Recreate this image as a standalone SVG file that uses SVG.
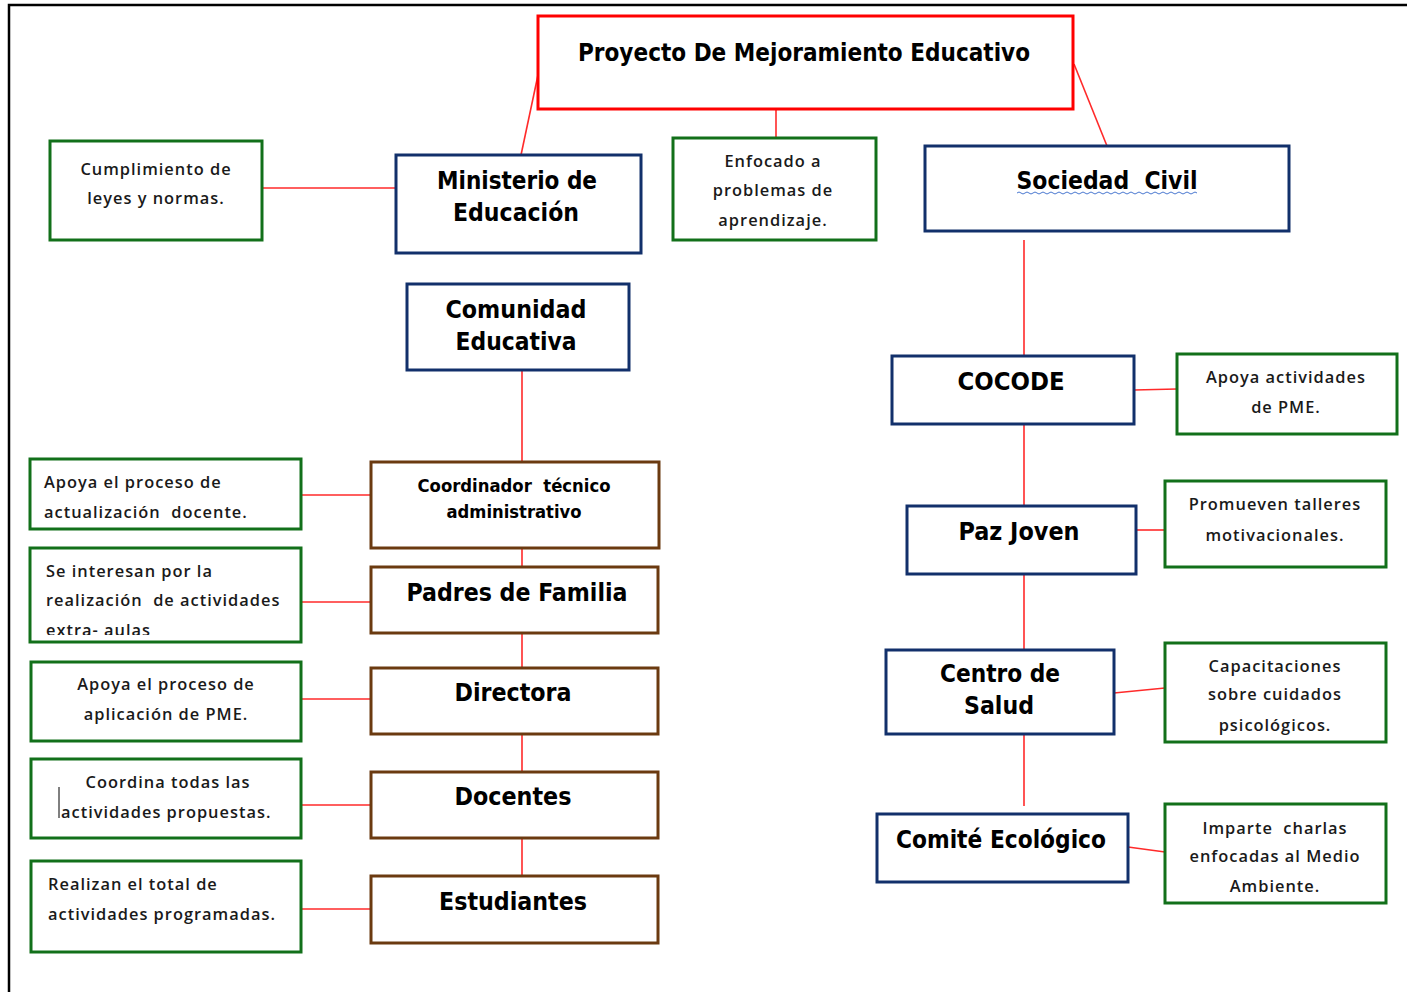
<svg xmlns="http://www.w3.org/2000/svg" width="1407" height="992" viewBox="0 0 1407 992">
<style>
.frame{fill:none;stroke:#000;stroke-width:2.5}
.red{fill:#fff;stroke:#ff0000;stroke-width:3}
.navy{fill:#fff;stroke:#12306b;stroke-width:3}
.brown{fill:#fff;stroke:#6b3a10;stroke-width:3}
.green{fill:#fff;stroke:#12701a;stroke-width:3}
.con line{stroke:#ff2a2a;stroke-width:1.6}
.h{font-family:"DejaVu Sans Condensed","Liberation Sans",sans-serif;font-weight:bold;font-size:24px;fill:#000;text-anchor:middle}
.hs{font-family:"DejaVu Sans Condensed","Liberation Sans",sans-serif;font-weight:bold;font-size:17px;fill:#000;text-anchor:middle}
.t{font-family:"Open Sans","Liberation Sans",sans-serif;font-weight:600;font-size:16.4px;letter-spacing:1px;fill:#1a1a1a;text-anchor:middle}
.tl{font-family:"Open Sans","Liberation Sans",sans-serif;font-weight:600;font-size:16.4px;letter-spacing:1px;fill:#1a1a1a}
</style>
<rect x="0" y="0" width="1407" height="992" fill="#fff"/>
<path class="frame" d="M9,992 V5 H1407"/>
<g class="con" id="connectors">
<line x1="538" y1="75" x2="521" y2="155"/>
<line x1="776" y1="110" x2="776" y2="138"/>
<line x1="1074" y1="64" x2="1107" y2="146"/>
<line x1="262" y1="188" x2="396" y2="188"/>
<line x1="1024" y1="240" x2="1024" y2="356"/>
<line x1="522" y1="370" x2="522" y2="462"/>
<line x1="522" y1="548" x2="522" y2="567"/>
<line x1="522" y1="633" x2="522" y2="668"/>
<line x1="522" y1="734" x2="522" y2="772"/>
<line x1="522" y1="838" x2="522" y2="876"/>
<line x1="301" y1="495" x2="371" y2="495"/>
<line x1="301" y1="602" x2="371" y2="602"/>
<line x1="301" y1="699" x2="371" y2="699"/>
<line x1="301" y1="805" x2="371" y2="805"/>
<line x1="301" y1="909" x2="371" y2="909"/>
<line x1="1134" y1="390" x2="1177" y2="389"/>
<line x1="1024" y1="424" x2="1024" y2="506"/>
<line x1="1136" y1="530" x2="1165" y2="530"/>
<line x1="1024" y1="574" x2="1024" y2="650"/>
<line x1="1114" y1="693" x2="1165" y2="688"/>
<line x1="1024" y1="734" x2="1024" y2="806"/>
<line x1="1128" y1="847" x2="1165" y2="852"/>
</g>
<g id="pme"><rect class="red" x="538" y="16" width="535" height="93"/><text class="h" x="804" y="61" textLength="452" lengthAdjust="spacingAndGlyphs">Proyecto De Mejoramiento Educativo</text></g>
<g id="ministerio"><rect class="navy" x="396" y="155" width="245" height="98"/><text class="h" x="517" y="189" textLength="160" lengthAdjust="spacingAndGlyphs">Ministerio de</text><text class="h" x="516" y="221" textLength="126" lengthAdjust="spacingAndGlyphs">Educación</text></g>
<g id="cumplimiento"><rect class="green" x="50" y="141" width="212" height="99"/><text class="t" x="156" y="175">Cumplimiento de</text><text class="t" x="156" y="204">leyes y normas.</text></g>
<g id="enfocado"><rect class="green" x="673" y="138" width="203" height="102"/><text class="t" x="773" y="167">Enfocado a</text><text class="t" x="773" y="196">problemas de</text><text class="t" x="773" y="226">aprendizaje.</text></g>
<g id="sociedad"><rect class="navy" x="925" y="146" width="364" height="85"/><text class="h" x="1107" y="189" textLength="181" lengthAdjust="spacingAndGlyphs" xml:space="preserve">Sociedad  Civil</text><path d="M1017,193 q2,-2 4,0 t4,0 t4,0 t4,0 t4,0 t4,0 t4,0 t4,0 t4,0 t4,0 t4,0 t4,0 t4,0 t4,0 t4,0 t4,0 t4,0 t4,0 t4,0 t4,0 t4,0 t4,0 t4,0 t4,0 t4,0 t4,0 t4,0 t4,0 t4,0 t4,0 t4,0 t4,0 t4,0 t4,0 t4,0 t4,0 t4,0 t4,0 t4,0 t4,0 t4,0 t4,0 t4,0 t4,0 t4,0" fill="none" stroke="#4a78d0" stroke-width="1"/></g>
<g id="comunidad"><rect class="navy" x="407" y="284" width="222" height="86"/><text class="h" x="516" y="318" textLength="141" lengthAdjust="spacingAndGlyphs">Comunidad</text><text class="h" x="516" y="350" textLength="121" lengthAdjust="spacingAndGlyphs">Educativa</text></g>
<g id="coordinador"><rect class="brown" x="371" y="462" width="288" height="86"/><text class="hs" x="514" y="492" textLength="193" lengthAdjust="spacingAndGlyphs" xml:space="preserve">Coordinador  técnico</text><text class="hs" x="514" y="518" textLength="135" lengthAdjust="spacingAndGlyphs">administrativo</text></g>
<g id="padres"><rect class="brown" x="371" y="567" width="287" height="66"/><text class="h" x="517" y="601" textLength="221" lengthAdjust="spacingAndGlyphs">Padres de Familia</text></g>
<g id="directora"><rect class="brown" x="371" y="668" width="287" height="66"/><text class="h" x="513" y="701" textLength="117" lengthAdjust="spacingAndGlyphs">Directora</text></g>
<g id="docentes"><rect class="brown" x="371" y="772" width="287" height="66"/><text class="h" x="513" y="805" textLength="117" lengthAdjust="spacingAndGlyphs">Docentes</text></g>
<g id="estudiantes"><rect class="brown" x="371" y="876" width="287" height="67"/><text class="h" x="513" y="910" textLength="148" lengthAdjust="spacingAndGlyphs">Estudiantes</text></g>
<g id="apoya-docente"><rect class="green" x="30" y="459" width="271" height="70"/><text class="tl" x="44" y="488">Apoya el proceso de</text><text class="tl" x="44" y="518" xml:space="preserve">actualización  docente.</text></g>
<g id="se-interesan"><clipPath id="c1"><rect x="31" y="549" width="269" height="86"/></clipPath><rect class="green" x="30" y="548" width="271" height="94"/><g clip-path="url(#c1)"><text class="tl" x="46" y="577">Se interesan por la</text><text class="tl" x="46" y="606" xml:space="preserve">realización  de actividades</text><text class="tl" x="46" y="636">extra- aulas</text></g></g>
<g id="apoya-pme"><rect class="green" x="31" y="662" width="270" height="79"/><text class="t" x="166" y="690">Apoya el proceso de</text><text class="t" x="166" y="720">aplicación de PME.</text></g>
<g id="coordina"><rect class="green" x="31" y="759" width="270" height="79"/><text class="t" x="168" y="788">Coordina todas las</text><text class="tl" x="61" y="818">actividades propuestas.</text><line x1="59" y1="787" x2="59" y2="818" stroke="#000" stroke-width="1"/></g>
<g id="realizan"><rect class="green" x="31" y="861" width="270" height="91"/><text class="tl" x="48" y="890">Realizan el total de</text><text class="tl" x="48" y="920">actividades programadas.</text></g>
<g id="cocode"><rect class="navy" x="892" y="356" width="242" height="68"/><text class="h" x="1011" y="390" textLength="107" lengthAdjust="spacingAndGlyphs">COCODE</text></g>
<g id="apoya-act"><rect class="green" x="1177" y="354" width="220" height="80"/><text class="t" x="1286" y="383">Apoya actividades</text><text class="t" x="1286" y="413">de PME.</text></g>
<g id="paz"><rect class="navy" x="907" y="506" width="229" height="68"/><text class="h" x="1019" y="540" textLength="121" lengthAdjust="spacingAndGlyphs">Paz Joven</text></g>
<g id="promueven"><rect class="green" x="1165" y="481" width="221" height="86"/><text class="t" x="1275" y="510">Promueven talleres</text><text class="t" x="1275" y="541">motivacionales.</text></g>
<g id="centro"><rect class="navy" x="886" y="650" width="228" height="84"/><text class="h" x="1000" y="682" textLength="120" lengthAdjust="spacingAndGlyphs">Centro de</text><text class="h" x="999" y="714" textLength="70" lengthAdjust="spacingAndGlyphs">Salud</text></g>
<g id="capacitaciones"><rect class="green" x="1165" y="643" width="221" height="99"/><text class="t" x="1275" y="672">Capacitaciones</text><text class="t" x="1275" y="700">sobre cuidados</text><text class="t" x="1275" y="731">psicológicos.</text></g>
<g id="comite"><rect class="navy" x="877" y="814" width="251" height="68"/><text class="h" x="1001" y="848" textLength="210" lengthAdjust="spacingAndGlyphs">Comité Ecológico</text></g>
<g id="imparte"><rect class="green" x="1165" y="804" width="221" height="99"/><text class="t" x="1275" y="834" xml:space="preserve">Imparte  charlas</text><text class="t" x="1275" y="862">enfocadas al Medio</text><text class="t" x="1275" y="892">Ambiente.</text></g>
</svg>
